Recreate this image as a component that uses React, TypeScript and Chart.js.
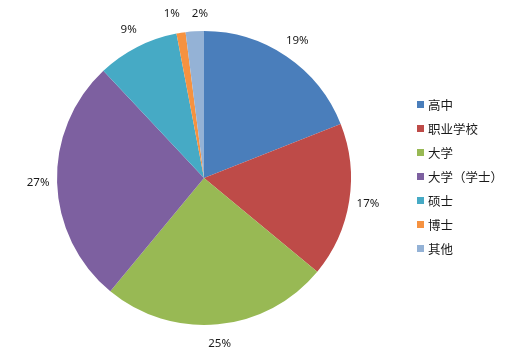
import React, { useEffect, useRef } from "react";
import { Chart, registerables } from "chart.js";

Chart.register(...registerables);

const categories = ["高中", "职业学校", "大学", "大学（学士）", "硕士", "博士", "其他"];
const shares = [19, 17, 25, 27, 9, 1, 2];
const colors = ["#4A7EBB", "#BE4B48", "#98B954", "#7D60A0", "#46AAC5", "#F69240", "#94B2D6"];

const outsideLabels = {
  id: "outsideLabels",
  afterDatasetsDraw(chart: any) {
    const ctx = chart.ctx;
    const meta = chart.getDatasetMeta(0);
    ctx.save();
    ctx.font = '11.5px "Noto Sans", "Open Sans", sans-serif';
    ctx.fillStyle = "#1a1a1a";
    ctx.textAlign = "center";
    ctx.textBaseline = "middle";
    const items = meta.data.map((arc: any, i: number) => {
      const { x, y, startAngle, endAngle, outerRadius } = arc.getProps(
        ["x", "y", "startAngle", "endAngle", "outerRadius"],
        true
      );
      const mid = (startAngle + endAngle) / 2;
      const r = outerRadius + 19;
      const text = shares[i] + "%";
      return { text, x: x + Math.cos(mid) * r, y: y + Math.sin(mid) * r, w: ctx.measureText(text).width };
    });
    // spread apart labels that would collide
    for (let i = 1; i < items.length; i++) {
      const a = items[i - 1];
      const b = items[i];
      if (Math.abs(a.y - b.y) < 14) {
        const need = (a.w + b.w) / 2 + 12;
        const d = b.x - a.x;
        if (Math.abs(d) < need) {
          const dir = d >= 0 ? 1 : -1;
          const shift = (need - Math.abs(d)) / 2;
          a.x -= dir * shift;
          b.x += dir * shift;
          const yy = Math.min(a.y, b.y) + 1;
          a.y = yy;
          b.y = yy;
        }
      }
    }
    items.forEach((it: any) => ctx.fillText(it.text, it.x, it.y));
    ctx.restore();
  },
};

export default function App() {
  const ref = useRef<HTMLCanvasElement>(null);
  useEffect(() => {
    const chart = new Chart(ref.current!, {
      type: "pie",
      data: {
        labels: categories,
        datasets: [
          {
            data: shares,
            backgroundColor: colors,
            borderWidth: 0,
          },
        ],
      },
      options: {
        animation: false,
        responsive: false,
        maintainAspectRatio: false,
        layout: { padding: { left: 57, right: 159, top: 31, bottom: 32 } },
        plugins: {
          legend: { display: false },
          tooltip: { enabled: false },
        },
      },
      plugins: [outsideLabels],
    });
    return () => chart.destroy();
  }, []);

  return (
    <div style={{ position: "fixed", left: 0, top: 0, width: 510, height: 357, background: "#fff" }}>
      <canvas ref={ref} width={510} height={357} style={{ position: "absolute", left: 0, top: 0 }} />
      <div style={{ position: "absolute", left: 417, top: 92 }}>
        {categories.map((c, i) => (
          <div
            key={c}
            style={{
              display: "flex",
              alignItems: "center",
              height: 24,
              fontFamily: '"Noto Sans CJK SC", sans-serif',
              fontSize: 12.5,
              color: "#1a1a1a",
            }}
          >
            <span style={{ width: 7, height: 7, background: colors[i], marginRight: 4, display: "inline-block" }} />
            <span>{c}</span>
          </div>
        ))}
      </div>
    </div>
  );
}
